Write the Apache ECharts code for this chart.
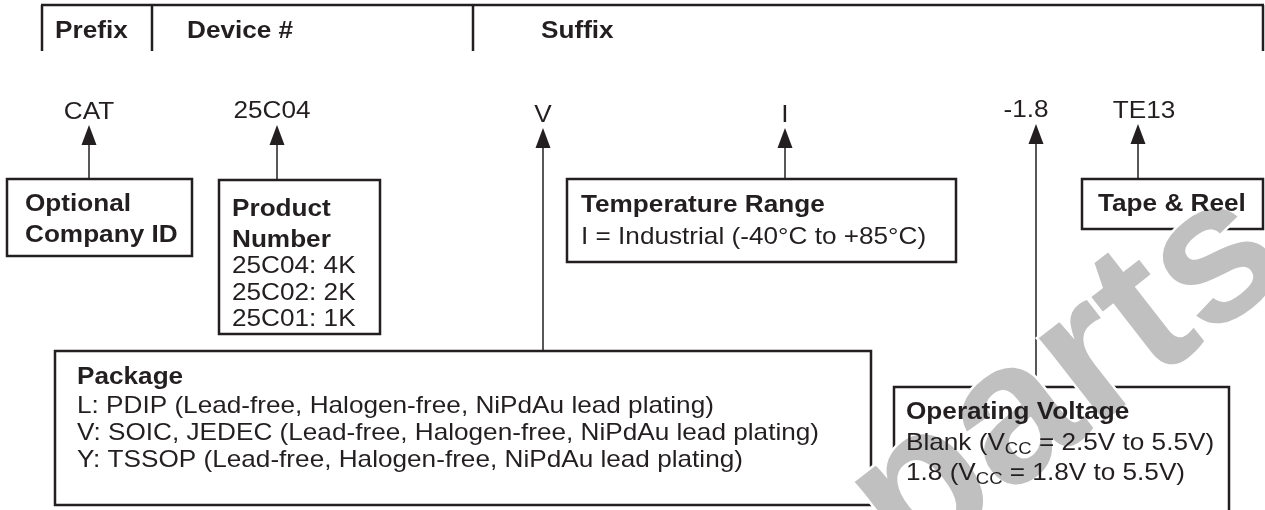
<!DOCTYPE html>
<html>
<head>
<meta charset="utf-8">
<script src="https://cdn.jsdelivr.net/npm/echarts@6/dist/echarts.min.js"></script>
<style>
  html, body { margin: 0; padding: 0; background: #fff; }
  #chart { width: 1265px; height: 510px; }
</style>
</head>
<body>
<div id="chart"></div>
<script>
// 文字内容
const headerLabels = ['Prefix', 'Device #', 'Suffix'];
const codeLabels = ['CAT', '25C04', 'V', 'I', '-1.8', 'TE13'];
const boxTitles = [
  ['Optional', 'Company ID'],
  ['Product', 'Number'],
  ['Temperature Range'],
  ['Tape & Reel'],
  ['Package'],
  ['Operating Voltage']
];
const boxLines = [
  [],
  ['25C04: 4K', '25C02: 2K', '25C01: 1K'],
  ['I = Industrial (-40°C to +85°C)'],
  [],
  ['L: PDIP (Lead-free, Halogen-free, NiPdAu lead plating)',
   'V: SOIC, JEDEC (Lead-free, Halogen-free, NiPdAu lead plating)',
   'Y: TSSOP (Lead-free, Halogen-free, NiPdAu lead plating)'],
  ['Blank (V{sub|CC} = 2.5V to 5.5V)', '1.8 (V{sub|CC} = 1.8V to 5.5V)']
];
const watermark = 'parts';

// 版面位置 (像素)
const headerX = [55, 187, 541];
const headerSep = [42, 152, 473, 1263];
const codeX = [89, 272, 543, 785, 1026, 1144];
const codeBase = [120, 119, 123, 123, 118, 119];
const arrowX = [89, 277, 543, 785, 1036, 1138];
const arrowTip = [125, 125, 128, 128, 124, 124];
const arrowEnd = [179, 180, 351, 179, 387, 179];
const boxRect = [
  [7, 179, 185, 77],
  [219, 180, 161, 154],
  [567, 179, 389, 83],
  [1082, 179, 181, 50],
  [55, 351, 816, 154],
  [894, 387, 335, 140]
];
const textLeft = [25, 232, 581, 1098, 77, 906];
const titleBase = [[212, 243], [217, 248], [213], [212], [385], [420]];
const lineBase = [[], [274, 301, 327], [245], [], [414, 441, 468], [451, 481]];

const INK = '#231f20';
const FAMILY = '"Liberation Sans", Arial, sans-serif';
const FS = 24;
const SX = 1.09;

const chart = echarts.init(document.getElementById('chart'));

// 文本元素，y 为基线位置
function txt(text, x, base, bold, align, fs) {
  const size = fs || FS;
  return {
    type: 'text', x: x, y: base, scaleX: SX, z: 3,
    style: {
      text: text, x: 0, y: -0.33 * size,
      fill: INK, fontSize: size, fontFamily: FAMILY,
      fontWeight: bold ? 'bold' : 'normal',
      align: align || 'left', textAlign: align || 'left',
      verticalAlign: 'middle', textVerticalAlign: 'middle',
      lineHeight: 30,
      rich: {
        sub: { fontSize: 17, fontFamily: FAMILY, fill: INK, verticalAlign: 'bottom', lineHeight: 17 }
      }
    }
  };
}

function line(x1, y1, x2, y2, w) {
  return { type: 'line', z: 1, shape: { x1, y1, x2, y2 }, style: { stroke: INK, lineWidth: w } };
}

const els = [];

// 表头
els.push(line(41, 5, 1264, 5, 2.5));
headerSep.forEach(x => els.push(line(x, 5, x, 51, 2.5)));
headerLabels.forEach((t, i) => els.push(txt(t, headerX[i], 39, true)));

// 代码与箭头
codeLabels.forEach((t, i) => {
  els.push(txt(t, codeX[i], codeBase[i], false, 'center'));
  const x = arrowX[i], tip = arrowTip[i];
  els.push(line(x, tip + 18, x, arrowEnd[i], 1.5));
  els.push({
    type: 'polygon', z: 1,
    shape: { points: [[x, tip], [x - 7.5, tip + 20], [x + 7.5, tip + 20]] },
    style: { fill: INK }
  });
});

// 说明框
boxRect.forEach((r, i) => {
  els.push({
    type: 'rect', z: 1,
    shape: { x: r[0], y: r[1], width: r[2], height: r[3] },
    style: { fill: 'none', stroke: INK, lineWidth: 2.5 }
  });
  boxTitles[i].forEach((t, j) => els.push(txt(t, textLeft[i], titleBase[i][j], true)));
  boxLines[i].forEach((t, j) => els.push(txt(t, textLeft[i], lineBase[i][j], false)));
});

// 水印
els.push({
  type: 'text', x: 916, y: 582, rotation: 38 * Math.PI / 180, z: 2,
  style: {
    text: watermark, x: 0, y: -66,
    fontSize: 200, fontWeight: 'bold', fontFamily: FAMILY,
    fill: '#c0c0c0', stroke: '#fff', lineWidth: 5,
    align: 'left', textAlign: 'left', verticalAlign: 'middle', textVerticalAlign: 'middle'
  }
});

chart.setOption({
  backgroundColor: '#fff',
  animation: false,
  graphic: { elements: els }
});
</script>
</body>
</html>
